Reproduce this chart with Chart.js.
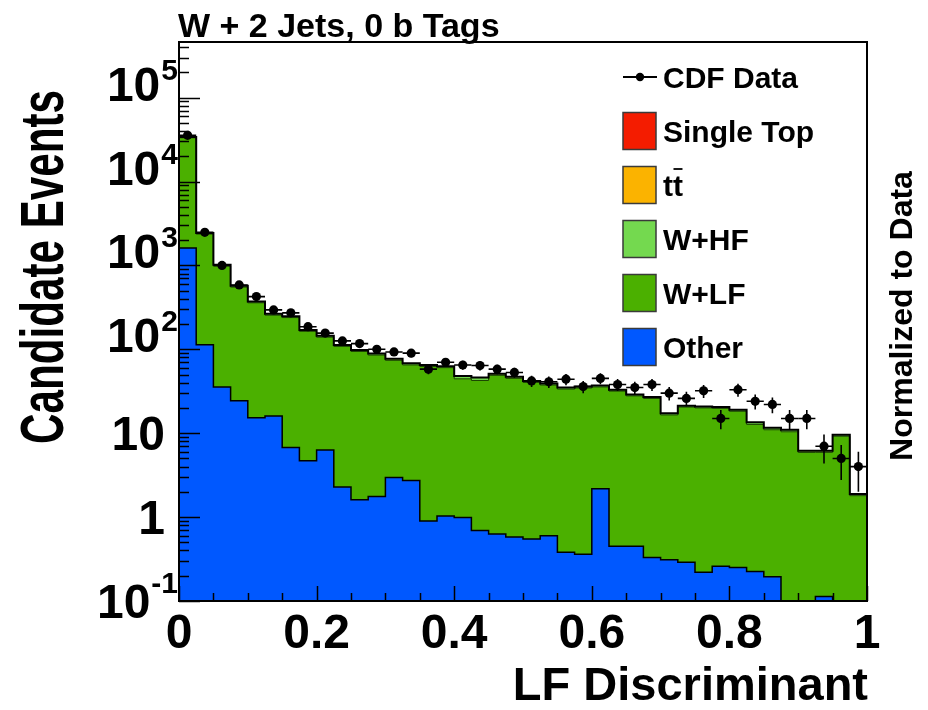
<!DOCTYPE html>
<html>
<head>
<meta charset="utf-8">
<title>W + 2 Jets, 0 b Tags — LF Discriminant</title>
<script src="https://cdn.jsdelivr.net/npm/chart.js@4.4.1/dist/chart.umd.min.js"></script>
<style>
  html, body { margin: 0; padding: 0; background: #ffffff; }
  #wrap { width: 928px; height: 710px; position: relative; }
</style>
</head>
<body>
<div id="wrap"><canvas id="chart" width="928" height="710"></canvas></div>
<script>
// ---- Histogram binning: 40 bins over the LF discriminant [0, 1] ----
const NBINS = 40;
const BIN_WIDTH = 0.025;

// ---- Observed events per bin ----
const cdfData = [35500, 2480, 1000, 585, 425, 295, 272, 186, 156, 126,
                 117, 100, 93, 90, 58, 70, 65, 64, 58, 53,
                 42, 41, 44, 36, 45, 38, 35, 38, 30, 26,
                 32, 15, 33, 24, 22, 15, 15, 7, 5, 4];

// ---- Predicted contributions per bin (normalized to data) ----
const otherBkg = [1610, 113, 35.5, 24.4, 15.3, 16, 6.75, 4.7, 6.3, 2.28,
                  1.61, 1.76, 2.96, 2.73, 0.90, 1.03, 0.99, 0.69, 0.63, 0.58,
                  0.55, 0.60, 0.38, 0.36, 2.18, 0.45, 0.45, 0.33, 0.31, 0.29,
                  0.22, 0.26, 0.25, 0.225, 0.195, 0, 0, 0.113, 0, 0];
const wLF = [31600, 2250, 948, 527, 343, 239, 232, 159, 133, 106,
             92.5, 83.6, 70.9, 62.4, 61.5, 59.4, 43.5, 41.8, 48.3, 44.5,
             39.7, 36.9, 33.2, 34.2, 33.4, 31.3, 27.4, 25.6, 16.2, 20.2,
             19.8, 19.5, 18.0, 12.5, 10.8, 10.4, 5.9, 5.8, 9.2, 1.8];
const wHF = [700, 60, 28, 16, 11, 8, 7.5, 5, 4.5, 3.5,
             3, 2.8, 2.4, 2.2, 2, 2, 3, 3, 1.6, 1.5,
             1.3, 1.2, 1.1, 1.1, 1.1, 1, 0.9, 0.8, 0.6, 0.6,
             0.6, 0.6, 0.6, 0.6, 0.5, 0.5, 0.2, 0.2, 0.3, 0.05];
const ttbar = [40, 6, 3, 2, 1.5, 1.2, 1.0, 0.8, 0.7, 0.6,
               0.5, 0.5, 0.4, 0.4, 0.35, 0.35, 0.3, 0.3, 0.3, 0.25,
               0.25, 0.2, 0.2, 0.2, 0.2, 0.18, 0.15, 0.15, 0.12, 0.12,
               0.12, 0.1, 0.1, 0.08, 0.07, 0.07, 0.05, 0.05, 0.05, 0.02];
const singleTop = [25, 4, 2, 1.2, 1.0, 0.8, 0.7, 0.5, 0.45, 0.4,
                   0.35, 0.3, 0.3, 0.25, 0.25, 0.22, 0.2, 0.2, 0.2, 0.18,
                   0.16, 0.15, 0.14, 0.14, 0.13, 0.12, 0.1, 0.1, 0.08, 0.08,
                   0.08, 0.07, 0.07, 0.06, 0.05, 0.05, 0.03, 0.03, 0.03, 0.01];

// ---- Axis tick labels ----
const xTickValues = [0, 0.2, 0.4, 0.6, 0.8, 1];
const xTickText = ['0', '0.2', '0.4', '0.6', '0.8', '1'];
const yTickValues = [0.1, 1, 10, 100, 1000, 10000, 100000];
const yTickBase = ['10', '1', '10', '10', '10', '10', '10'];
const yTickExp = ['-1', '', '', '2', '3', '4', '5'];

const Y_MIN = 0.1;
const Y_MAX = 4.6e5;
const FLOOR = 1e-3; // empty bins sit below the visible range

const COLORS = {
  singleTop: '#f41c00',
  ttbar: '#fbb300',
  wHF: '#74d94f',
  wLF: '#4bb000',
  other: '#0058ff'
};
const FONT = '"Liberation Sans", Arial, Helvetica, sans-serif';

// ---- Derived tables for the stacked histogram ----
const edges = Array.from({ length: NBINS + 1 }, (_, i) => +(i * BIN_WIDTH).toFixed(4));
const centers = edges.slice(0, NBINS).map(e => +(e + BIN_WIDTH / 2).toFixed(4));

function addArrays(a, b) { return a.map((v, i) => v + b[i]); }
const cumOther = otherBkg.slice();
const cumLF = addArrays(cumOther, wLF);
const cumHF = addArrays(cumLF, wHF);
const cumTT = addArrays(cumHF, ttbar);
const cumTotal = addArrays(cumTT, singleTop);

// one point per lower bin edge plus the upper edge of the last bin;
// 'before' stepping draws the horizontal run first, giving histogram steps
function stepPoints(vals) {
  const pts = vals.map((v, i) => ({ x: edges[i], y: Math.max(v, FLOOR) }));
  pts.push({ x: edges[NBINS], y: Math.max(vals[NBINS - 1], FLOOR) });
  return pts;
}

function layer(label, vals, fillColor, borderColor, borderWidth) {
  return {
    type: 'line',
    label: label,
    data: stepPoints(vals),
    stepped: 'before',
    fill: 'start',
    backgroundColor: fillColor,
    borderColor: borderColor,
    borderWidth: borderWidth,
    pointRadius: 0,
    tension: 0
  };
}

// ---- Drawing helpers ----
function text(ctx, str, x, y, size, align, baseline, rot, sx) {
  ctx.save();
  ctx.font = 'bold ' + size + 'px ' + FONT;
  ctx.fillStyle = '#000';
  ctx.textAlign = align;
  ctx.textBaseline = baseline;
  ctx.translate(x, y);
  if (rot) ctx.rotate(rot);
  if (sx) ctx.scale(sx, 1);
  ctx.fillText(str, 0, 0);
  ctx.restore();
}

const decorations = {
  id: 'decorations',
  afterDatasetsDraw(chart) {
    const ctx = chart.ctx;
    const xs = chart.scales.x;
    const ys = chart.scales.y;
    const area = chart.chartArea;

    // Poisson error bars on the observed counts
    ctx.save();
    ctx.strokeStyle = '#000';
    ctx.lineWidth = 1.6;
    cdfData.forEach((n, i) => {
      const px = xs.getPixelForValue(centers[i]);
      const py = ys.getPixelForValue(n);
      const err = Math.sqrt(n);
      const top = ys.getPixelForValue(n + err);
      const bot = ys.getPixelForValue(Math.max(n - err, FLOOR));
      ctx.beginPath();
      ctx.moveTo(px, top); ctx.lineTo(px, Math.min(bot, area.bottom));
      ctx.moveTo(xs.getPixelForValue(edges[i]), py);
      ctx.lineTo(xs.getPixelForValue(edges[i + 1]), py);
      ctx.stroke();
    });
    ctx.restore();
  },
  afterDraw(chart) {
    const ctx = chart.ctx;
    const xs = chart.scales.x;
    const ys = chart.scales.y;
    const a = chart.chartArea;

    ctx.save();
    ctx.strokeStyle = '#000';
    ctx.lineWidth = 1.5;

    // y axis ticks (log): decades long, sub-decades short
    ctx.beginPath();
    for (let d = -1; d <= 5; d++) {
      for (let m = 1; m <= 9; m++) {
        const v = m * Math.pow(10, d);
        if (v < Y_MIN || v > Y_MAX) continue;
        const py = Math.round(ys.getPixelForValue(v)) + 0.5;
        const len = m === 1 ? 21 : 10;
        ctx.moveTo(a.left, py); ctx.lineTo(a.left + len, py);
      }
    }
    // x axis ticks: primary every 0.2, secondary every 0.05
    for (let k = 0; k <= 20; k++) {
      const v = k * 0.05;
      const px = Math.round(xs.getPixelForValue(v)) + 0.5;
      const len = (k % 4 === 0) ? 15 : 8;
      ctx.moveTo(px, a.bottom); ctx.lineTo(px, a.bottom - len);
    }
    ctx.stroke();

    // frame
    ctx.lineWidth = 2;
    ctx.strokeRect(a.left, a.top, a.right - a.left, a.bottom - a.top);
    ctx.restore();

    // x tick labels
    xTickValues.forEach((v, i) => {
      text(ctx, xTickText[i], xs.getPixelForValue(v), 648, 48, 'center', 'alphabetic');
    });

    // y tick labels with superscript exponents
    yTickValues.forEach((v, i) => {
      const py = ys.getPixelForValue(v);
      const exp = yTickExp[i];
      if (!exp) {
        text(ctx, yTickBase[i], 165, py + 17, 48, 'right', 'alphabetic');
      } else {
        ctx.save();
        ctx.font = 'bold 30px ' + FONT;
        const ew = ctx.measureText(exp).width;
        ctx.restore();
        const baseRight = 177 - ew;
        const neg = exp.charAt(0) === '-';
        text(ctx, yTickBase[i], baseRight, py + (neg ? 17 : 3), 48, 'right', 'alphabetic');
        text(ctx, exp, baseRight + 1, py + (neg ? -8 : -18), 30, 'left', 'alphabetic');
      }
    });

    // axis titles and labels
    text(ctx, 'Candidate Events', 46, 267, 62, 'center', 'middle', -Math.PI / 2, 0.68);
    text(ctx, 'LF Discriminant', 868, 700, 47, 'right', 'alphabetic');
    text(ctx, 'W + 2 Jets, 0 b Tags', 178, 37, 34, 'left', 'alphabetic');
    text(ctx, 'Normalized to Data', 903, 316, 32, 'center', 'middle', -Math.PI / 2);

    // legend
    const items = [
      { label: 'CDF Data', marker: true },
      { label: 'Single Top', color: COLORS.singleTop },
      { label: 'tt', color: COLORS.ttbar, bar: true },
      { label: 'W+HF', color: COLORS.wHF },
      { label: 'W+LF', color: COLORS.wLF },
      { label: 'Other', color: COLORS.other }
    ];
    const boxL = 623, boxW = 33, boxH = 37, textX = 663, LS = 30;
    items.forEach((it, k) => {
      const cy = 77 + 54 * k;
      ctx.save();
      if (it.marker) {
        ctx.strokeStyle = '#000';
        ctx.lineWidth = 2;
        ctx.beginPath();
        ctx.moveTo(boxL, cy); ctx.lineTo(boxL + 34, cy);
        ctx.stroke();
        ctx.fillStyle = '#000';
        ctx.beginPath();
        ctx.arc(boxL + 17, cy, 4.2, 0, Math.PI * 2);
        ctx.fill();
      } else {
        ctx.fillStyle = it.color;
        ctx.fillRect(boxL, cy - boxH / 2, boxW, boxH);
        ctx.strokeStyle = '#3a3a3a';
        ctx.lineWidth = 1.5;
        ctx.strokeRect(boxL, cy - boxH / 2, boxW, boxH);
      }
      ctx.restore();
      text(ctx, it.label, textX, cy + 11, LS, 'left', 'alphabetic');
      if (it.bar) {
        ctx.save();
        ctx.font = 'bold ' + LS + 'px ' + FONT;
        const tw = ctx.measureText('t').width;
        ctx.strokeStyle = '#000';
        ctx.lineWidth = 1.8;
        ctx.beginPath();
        ctx.moveTo(textX + tw + 0.5, cy - 16);
        ctx.lineTo(textX + 2 * tw - 0.5, cy - 16);
        ctx.stroke();
        ctx.restore();
      }
    });
  }
};

const chart = new Chart(document.getElementById('chart'), {
  data: {
    datasets: [
      {
        type: 'line',
        label: 'CDF Data',
        data: cdfData.map((n, i) => ({ x: centers[i], y: n })),
        showLine: false,
        pointRadius: 4.6,
        pointBackgroundColor: '#000',
        pointBorderColor: '#000',
        pointBorderWidth: 0
      },
      {
        type: 'line',
        label: 'Total',
        data: stepPoints(cumTotal),
        stepped: 'before',
        fill: false,
        borderColor: '#000',
        borderWidth: 2,
        pointRadius: 0
      },
      layer('Other', cumOther, COLORS.other, '#000', 1.5),
      layer('W+LF', cumLF, COLORS.wLF, '#1c4400', 1),
      layer('W+HF', cumHF, COLORS.wHF, 'rgba(0,0,0,0)', 0),
      layer('tt', cumTT, COLORS.ttbar, 'rgba(0,0,0,0)', 0),
      layer('Single Top', cumTotal, COLORS.singleTop, 'rgba(0,0,0,0)', 0)
    ]
  },
  options: {
    responsive: false,
    animation: false,
    devicePixelRatio: 1,
    events: [],
    layout: { padding: { left: 179, top: 42, right: 61, bottom: 109 } },
    plugins: { legend: { display: false }, tooltip: { enabled: false }, title: { display: false } },
    scales: {
      x: { type: 'linear', min: 0, max: 1, display: false },
      y: { type: 'logarithmic', min: Y_MIN, max: Y_MAX, display: false }
    }
  },
  plugins: [decorations]
});
</script>
</body>
</html>
